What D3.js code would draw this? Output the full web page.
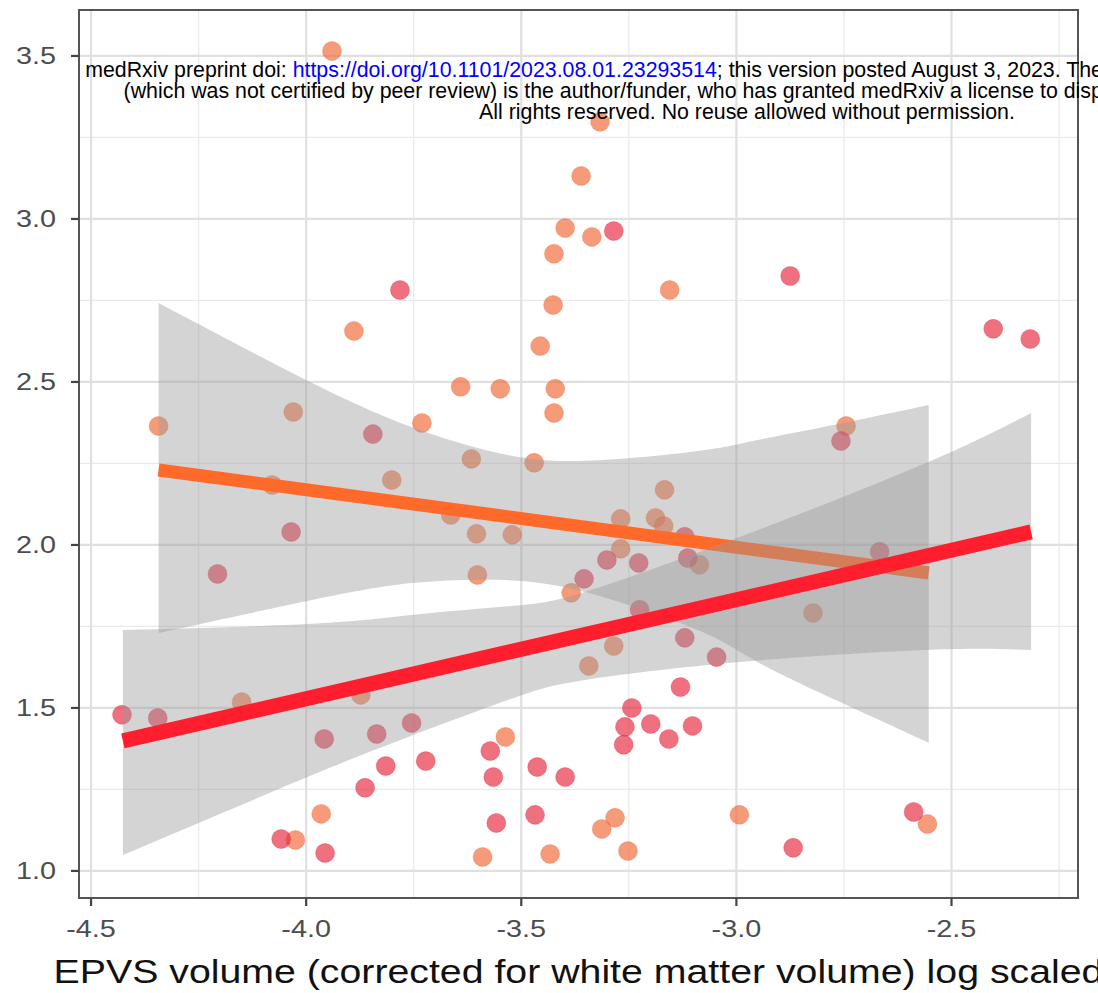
<!DOCTYPE html>
<html>
<head>
<meta charset="utf-8">
<script src="https://cdn.jsdelivr.net/npm/d3@7"></script>
<style>
  body { margin: 0; background: #fff; overflow: hidden; }
  svg { display: block; font-family: "Liberation Sans", Arial, sans-serif; }
</style>
</head>
<body>
<script>
// ---- data ----
let xTicks = [-4.5, -4.0, -3.5, -3.0, -2.5];
let yTicks = [1.0, 1.5, 2.0, 2.5, 3.0, 3.5];
let xMinor = [-4.25, -3.75, -3.25, -2.75, -2.25];
let yMinor = [1.25, 1.75, 2.25, 2.75, 3.25];

let orangePoints = [
  [-3.940,3.515],[-3.317,3.298],[-3.361,3.132],[-3.398,2.972],[-3.336,2.945],[-3.424,2.893],
  [-3.155,2.782],[-3.426,2.736],[-3.889,2.656],[-3.456,2.610],[-3.641,2.485],[-3.549,2.479],
  [-3.421,2.479],[-3.424,2.405],[-4.343,2.365],[-4.030,2.408],[-3.731,2.374],[-2.745,2.365],
  [-3.616,2.264],[-3.470,2.252],[-3.801,2.199],[-4.079,2.184],[-3.167,2.169],[-3.664,2.092],
  [-3.269,2.080],[-3.188,2.083],[-3.169,2.058],[-3.604,2.034],[-3.521,2.031],[-3.269,1.988],
  [-3.086,1.939],[-3.602,1.908],[-3.384,1.853],[-2.822,1.791],[-3.285,1.690],[-3.343,1.629],
  [-4.150,1.518],[-3.873,1.540],[-3.537,1.411],[-3.965,1.175],[-4.025,1.095],[-3.282,1.163],
  [-3.313,1.129],[-3.252,1.061],[-2.993,1.172],[-2.556,1.144],[-3.590,1.043],[-3.433,1.052]
];

let redPoints = [
  [-3.285,2.963],[-3.782,2.782],[-2.875,2.825],[-2.403,2.663],[-2.317,2.632],[-3.845,2.340],
  [-2.757,2.319],[-4.035,2.040],[-4.206,1.911],[-3.120,2.025],[-3.301,1.954],[-3.227,1.945],
  [-3.113,1.960],[-3.354,1.896],[-2.667,1.979],[-3.225,1.801],[-3.120,1.715],[-3.046,1.656],
  [-3.130,1.564],[-3.243,1.500],[-3.259,1.442],[-3.262,1.387],[-3.199,1.451],[-3.157,1.405],
  [-3.102,1.445],[-3.398,1.288],[-4.428,1.479],[-4.345,1.469],[-3.958,1.405],[-3.836,1.420],
  [-3.755,1.454],[-3.815,1.322],[-3.722,1.337],[-3.863,1.255],[-4.058,1.098],[-3.956,1.055],
  [-3.572,1.368],[-3.565,1.288],[-3.463,1.319],[-3.558,1.147],[-3.468,1.172],[-2.868,1.071],
  [-2.588,1.181]
];

// fitted lines (end points) and confidence bands
let orangeFitX = [-4.343, -2.553];
let orangeFitY = [2.230, 1.914];
let redFitX = [-4.426, -2.315];
let redFitY = [1.399, 2.040];

let orangeBandX  = [-4.343, -3.986, -3.755, -3.553, -3.352, -3.090, -2.951, -2.759, -2.553];
let orangeBandHi = [ 2.742,  2.497,  2.362,  2.282,  2.258,  2.288,  2.322,  2.372,  2.429];
let orangeBandLo = [ 1.730,  1.831,  1.883,  1.893,  1.856,  1.739,  1.641,  1.518,  1.393];

let redBandX  = [-4.426, -3.986, -3.755, -3.523, -3.352, -2.991, -2.558, -2.315];
let redBandHi = [ 1.739,  1.758,  1.785,  1.813,  1.856,  2.025,  2.252,  2.405];
let redBandLo = [ 1.049,  1.294,  1.415,  1.528,  1.586,  1.641,  1.678,  1.678];

let xTitle = "EPVS volume (corrected for white matter volume) log scaled";

// ---- layout ----
let W = 1098, H = 993;
let panel = {left: 79, right: 1078, top: 10, bottom: 898};

let svg = d3.select("body").append("svg")
    .attr("width", W)
    .attr("height", H);

let x = d3.scaleLinear().domain([-4.528, -2.206]).range([panel.left, panel.right]);
let y = d3.scaleLinear().domain([0.917, 3.641]).range([panel.bottom, panel.top]);

// panel background + grid
svg.append("rect")
    .attr("x", panel.left).attr("y", panel.top)
    .attr("width", panel.right - panel.left).attr("height", panel.bottom - panel.top)
    .attr("fill", "#fff");

let grid = svg.append("g");
grid.selectAll(".xminor").data(xMinor).join("line")
    .attr("x1", d => x(d)).attr("x2", d => x(d))
    .attr("y1", panel.top).attr("y2", panel.bottom)
    .attr("stroke", "#eaeaea").attr("stroke-width", 1.3);
grid.selectAll(".yminor").data(yMinor).join("line")
    .attr("y1", d => y(d)).attr("y2", d => y(d))
    .attr("x1", panel.left).attr("x2", panel.right)
    .attr("stroke", "#eaeaea").attr("stroke-width", 1.3);
grid.selectAll(".xmajor").data(xTicks).join("line")
    .attr("x1", d => x(d)).attr("x2", d => x(d))
    .attr("y1", panel.top).attr("y2", panel.bottom)
    .attr("stroke", "#e0e0e0").attr("stroke-width", 2.2);
grid.selectAll(".ymajor").data(yTicks).join("line")
    .attr("y1", d => y(d)).attr("y2", d => y(d))
    .attr("x1", panel.left).attr("x2", panel.right)
    .attr("stroke", "#e0e0e0").attr("stroke-width", 2.2);

// points
let pts = svg.append("g");
pts.selectAll(".o").data(orangePoints).join("circle")
    .attr("cx", d => x(d[0])).attr("cy", d => y(d[1]))
    .attr("r", 9.5)
    .attr("fill", "#f26b3a").attr("fill-opacity", 0.68)
    .attr("stroke", "#e8643a").attr("stroke-opacity", 0.3).attr("stroke-width", 1);
pts.selectAll(".r").data(redPoints).join("circle")
    .attr("cx", d => x(d[0])).attr("cy", d => y(d[1]))
    .attr("r", 9.5)
    .attr("fill", "#e6283e").attr("fill-opacity", 0.66)
    .attr("stroke", "#d0203a").attr("stroke-opacity", 0.3).attr("stroke-width", 1);

// smooths: ribbon then line, orange group first
let band = d3.area()
    .x(d => x(d[0])).y0(d => y(d[1])).y1(d => y(d[2]))
    .curve(d3.curveNatural);
let fitLine = d3.line().x(d => x(d[0])).y(d => y(d[1]));

function drawSmooth(bx, lo, hi, fx, fy, color, width) {
    let rows = bx.map((v, i) => [v, lo[i], hi[i]]);
    svg.append("path").datum(rows)
        .attr("d", band)
        .attr("fill", "#999999").attr("fill-opacity", 0.42);
    svg.append("path").datum(fx.map((v, i) => [v, fy[i]]))
        .attr("d", fitLine)
        .attr("fill", "none")
        .attr("stroke", color).attr("stroke-width", width);
}
drawSmooth(orangeBandX, orangeBandLo, orangeBandHi, orangeFitX, orangeFitY, "#ff6a2b", 13);
drawSmooth(redBandX, redBandLo, redBandHi, redFitX, redFitY, "#ff1e2d", 15);

// panel border
svg.append("rect")
    .attr("x", panel.left).attr("y", panel.top)
    .attr("width", panel.right - panel.left).attr("height", panel.bottom - panel.top)
    .attr("fill", "none").attr("stroke", "#555").attr("stroke-width", 2);

// stretch text horizontally like the (resampled) picture
function widen(sel, k) {
    sel.each(function() {
        let w = this.getComputedTextLength();
        d3.select(this).attr("textLength", w * k).attr("lengthAdjust", "spacingAndGlyphs");
    });
}

// axes ticks
let ax = svg.append("g");
ax.selectAll(".xt").data(xTicks).join("line")
    .attr("x1", d => x(d)).attr("x2", d => x(d))
    .attr("y1", panel.bottom).attr("y2", panel.bottom + 8)
    .attr("stroke", "#444").attr("stroke-width", 2.2);
ax.selectAll(".yt").data(yTicks).join("line")
    .attr("y1", d => y(d)).attr("y2", d => y(d))
    .attr("x1", panel.left - 8).attr("x2", panel.left)
    .attr("stroke", "#444").attr("stroke-width", 2.2);

let xl = ax.selectAll(".xl").data(xTicks).join("text")
    .attr("x", d => x(d)).attr("y", 937)
    .attr("text-anchor", "middle")
    .attr("font-size", 24).attr("fill", "#4d4d4d")
    .text(d => d.toFixed(1));
widen(xl, 1.2);

let yl = ax.selectAll(".yl").data(yTicks).join("text")
    .attr("x", 56).attr("y", d => y(d) + 8.5)
    .attr("text-anchor", "end")
    .attr("font-size", 24).attr("fill", "#4d4d4d")
    .text(d => d.toFixed(1));
widen(yl, 1.2);

let xt = svg.append("text")
    .attr("x", (panel.left + panel.right) / 2).attr("y", 983)
    .attr("text-anchor", "middle")
    .attr("font-size", 33).attr("fill", "#111")
    .text(xTitle);
widen(xt, 1.19);

// medRxiv watermark
let wm = svg.append("g").attr("font-size", 18).attr("fill", "#000");
let line1 = wm.append("text").attr("x", 747).attr("y", 77).attr("text-anchor", "middle");
line1.append("tspan").text("medRxiv preprint doi: ");
line1.append("tspan").attr("fill", "#0000ff").text("https://doi.org/10.1101/2023.08.01.23293514");
line1.append("tspan").text("; this version posted August 3, 2023. The copyright holder for this preprint");
wm.append("text").attr("x", 747).attr("y", 98).attr("text-anchor", "middle")
    .text("(which was not certified by peer review) is the author/funder, who has granted medRxiv a license to display the preprint in perpetuity.");
let line3 = wm.append("text").attr("x", 747).attr("y", 119).attr("text-anchor", "middle")
    .text("All rights reserved. No reuse allowed without permission.");
let w3 = line3.node().getComputedTextLength();
wm.attr("font-size", 18 * 536 / w3);
</script>
</body>
</html>
